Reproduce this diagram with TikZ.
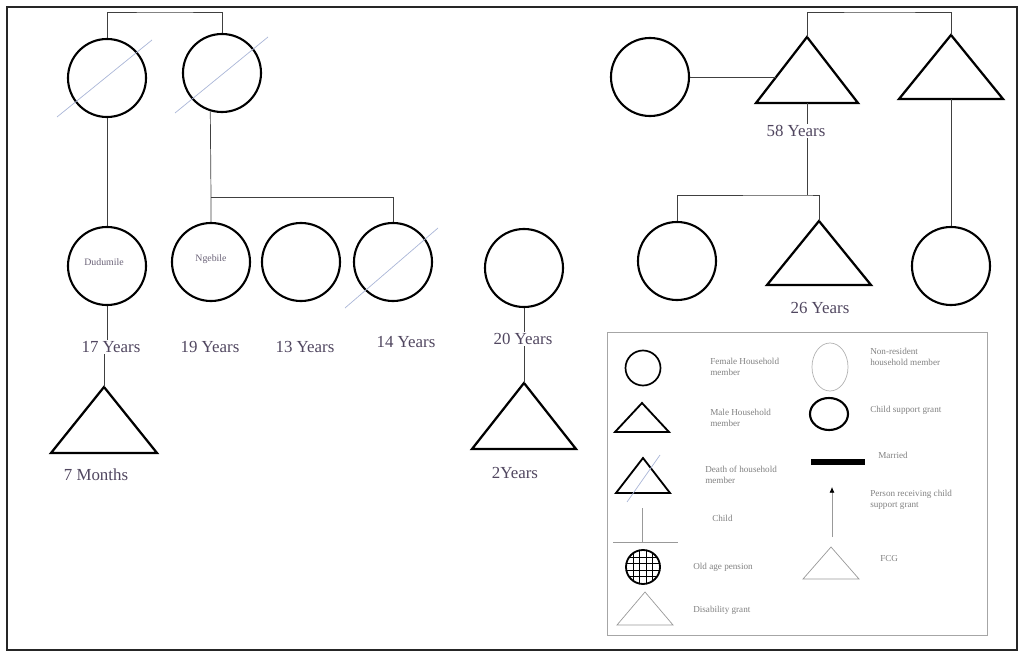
\documentclass[tikz,border=0pt]{standalone}
\usepackage{fontspec}
\setmainfont{Liberation Serif}
\usetikzlibrary{positioning, arrows.meta, calc, shapes.geometric}

\definecolor{lbl}{RGB}{80,70,95}
\definecolor{strike}{RGB}{170,182,215}

% triangle: [style]{name}{apex x}{apex y}{half base}{height}
\newcommand{\tri}[6][kin]{%
  \coordinate (#2) at (#3,#4);
  \coordinate (#2-l) at ({#3-#5},{#4+#6});
  \coordinate (#2-r) at ({#3+#5},{#4+#6});
  \coordinate (#2-b) at (#3,{#4+#6});
  \draw[#1] (#2) -- (#2-l) -- (#2-r) -- cycle;}

\begin{document}
\begin{tikzpicture}[
    x=0.025cm, y=-0.025cm,
    kin/.style={draw=black, line width=1.6pt},
    fem/.style={circle, draw=black, line width=1.5pt, minimum size=1.95cm, inner sep=0pt},
    link/.style={draw=black!75, line width=0.5pt},
    gone/.style={draw=strike, line width=0.5pt},
    age/.style={font=\fontsize{12}{14}\selectfont, text=lbl, inner sep=1pt},
    who/.style={font=\fontsize{7}{8}\selectfont, text=lbl!85},
    key/.style={font=\fontsize{6.5}{7.5}\selectfont, text=gray, align=left, anchor=west, inner sep=0pt},
    keythin/.style={draw=gray!80, line width=0.5pt}
]
    \useasboundingbox (0,0) rectangle (1021,656);
    \draw[line width=1.6pt, black!85] (7,7) rectangle (1017,650);

    % left family
    \node[fem] (gmA) at (107,78) {};
    \node[fem] (gmB) at (222,73) {};
    \coordinate (topL) at (165,12);
    \draw[link] (gmA.north) |- (topL) -| (gmB.north);
    \draw[gone] ($(gmA)+(-50,39)$) -- ($(gmA)+(45,-38)$);
    \draw[gone] ($(gmB)+(-47,40)$) -- ($(gmB)+(46,-36)$);

    \node[fem] (dud) at (107,266) {};
    \node[who] (dudName) at (104,262) {Dudumile};
    \node[fem] (ngb) at (211,262) {};
    \node[who] (ngbName) at (211,259) {Ngebile};
    \node[fem] (c13) at (301,262) {};
    \node[fem] (c14) at (393,262) {};
    \draw[gone] ($(c14)+(-48,46)$) -- ($(c14)+(45,-34)$);

    \coordinate (sibL) at (211,197);
    \draw[link] (gmA.south) -- (dud.north);
    \draw[link] (gmB.253) -- (sibL) -- (ngb.north);
    \draw[link] (sibL) -| (c14.north);

    \node[age] (y17) at (111,347) {17 Years};
    \node[age] (y19) at (210,347) {19 Years};
    \node[age] (y13) at (305,347) {13 Years};
    \node[age] (y14) at (406,342) {14 Years};

    \tri{t7m}{104}{387}{53}{66}
    \node[age] (m7) at (96,475) {7 Months};
    \draw[link] (dud.south) -- (dud.south |- y17.north);
    \draw[link] (t7m |- y17.south) -- (t7m);

    % middle
    \node[fem] (c20) at (524,268) {};
    \node[age] (y20) at (523,339) {20 Years};
    \tri{t2y}{524}{383}{52}{66}
    \node[age] (y2) at (515,473) {2Years};
    \draw[link] (c20.south) -- (c20.south |- y20.north);
    \draw[link] (t2y |- y20.south) -- (t2y);

    % right family
    \node[fem] (wifeR) at (650,77) {};
    \tri{t58}{807}{37}{51}{66}
    \tri{tR}{951}{35}{52}{64}
    \coordinate (topR) at (880,12);
    \coordinate (t58w) at ($(t58)!0.6!(t58-l)$);
    \draw[link] (t58) |- (topR) -| (tR);
    \draw[link] (wifeR.east) -- (wifeR.east -| t58w);
    \node[age] (y58) at (796,131) {58 Years};

    \node[fem] (dauR) at (677,261) {};
    \tri{t26}{819}{221}{52}{64}
    \node[age] (y26) at (820,308) {26 Years};
    \node[fem] (cR) at (951,266) {};
    \coordinate (sibR) at (807,195);
    \draw[link] (t58-b) -- (t58-b |- y58.north);
    \draw[link] (sibR |- y58.south) -- (sibR);
    \draw[link] (dauR.north) |- (sibR) -| (t26);
    \draw[link] (tR-b) -- (cR.north);

    % legend
    \draw[gray!70, line width=0.6pt] (607,332) rectangle (987,635);

    \node[circle, draw=black, line width=1.2pt, minimum size=0.875cm, inner sep=0pt] (kFem) at (643,368) {};
    \node[key] (kFemTxt) at (710,367) {Female Household\\member};

    \tri[{draw=black, line width=1.3pt}]{kMale}{642}{403}{27}{29}
    \node[key] (kMaleTxt) at (710,418) {Male Household\\member};

    \tri[{draw=black, line width=1.3pt}]{kDeath}{643}{458}{27}{35}
    \coordinate (kDeathA) at (627,502);
    \coordinate (kDeathB) at (660,455);
    \draw[gone] (kDeathA) -- (kDeathB);
    \node[key] (kDeathTxt) at (705,475) {Death of household\\member};

    \coordinate (kChildT) at (642,508);
    \coordinate (kChildL) at (613,542);
    \coordinate (kChildR) at (678,542);
    \draw[keythin] (kChildT) -- (kChildT |- kChildL);
    \draw[keythin] (kChildL) -- (kChildR);
    \node[key] (kChildTxt) at (712,518) {Child};

    \node[circle, draw=black, line width=1.3pt, minimum size=0.85cm, inner sep=0pt,
          path picture={\foreach \k in {-2.5,-1.5,...,2.5} {
              \draw[line width=0.8pt] ($(path picture bounding box.center)+(\k*6.5,-20)$) -- +(0,40);
              \draw[line width=0.8pt] ($(path picture bounding box.center)+(-20,\k*6.5)$) -- +(40,0);}}]
          (kOld) at (643,567) {};
    \node[key] (kOldTxt) at (693,567) {Old age pension};

    \tri[keythin]{kDis}{645}{592}{28}{33}
    \node[key] (kDisTxt) at (693,610) {Disability grant};

    \node[ellipse, draw=gray!60, line width=0.5pt, minimum width=0.9cm, minimum height=1.2cm] (kNon) at (830,367) {};
    \node[key] (kNonTxt) at (870,357) {Non-resident\\household member};

    \node[ellipse, draw=black, line width=1.5pt, minimum width=0.95cm, minimum height=0.8cm] (kCsg) at (829,414) {};
    \node[key] (kCsgTxt) at (870,410) {Child support grant};

    \node[fill=black, minimum width=1.35cm, minimum height=0.15cm, inner sep=0pt] (kMar) at (838,462) {};
    \node[key] (kMarTxt) at (878,455) {Married};

    \coordinate (kArrB) at (832,537);
    \coordinate (kArrT) at (832,487);
    \draw[keythin, -{Latex[black, length=4pt, width=3.5pt]}] (kArrB) -- (kArrT);
    \node[key] (kArrTxt) at (870,500) {Person receiving child\\support grant};

    \tri[keythin]{kFcg}{831}{547}{28}{32}
    \node[key] (kFcgTxt) at (880,559) {FCG};
\end{tikzpicture}
\end{document}
